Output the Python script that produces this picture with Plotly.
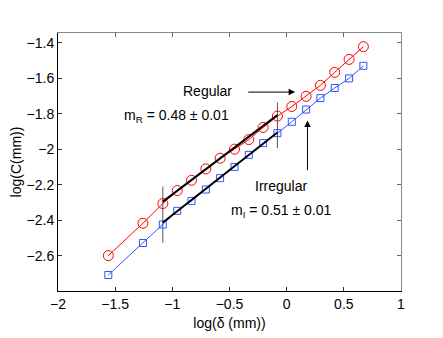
import plotly.graph_objects as go

log_delta = [-1.56, -1.257, -1.083, -0.957, -0.832, -0.707, -0.582, -0.456, -0.331,
             -0.206, -0.081, 0.045, 0.170, 0.295, 0.420, 0.546, 0.671]
regular = [-2.598, -2.416, -2.305, -2.232, -2.174, -2.110, -2.050, -1.999, -1.945,
           -1.877, -1.813, -1.759, -1.702, -1.640, -1.567, -1.494, -1.4225]
irregular = [-2.707, -2.527, -2.423, -2.346, -2.290, -2.226, -2.162, -2.099, -2.031,
             -1.965, -1.909, -1.845, -1.776, -1.712, -1.655, -1.601, -1.530]

fit_x = [-1.083, -0.081]
fit_regular = [-2.294, -1.8075]
fit_irregular = [-2.412, -1.905]

bound_x = [-1.083, -0.081]
bound_y_lo = [-2.525, -1.993]
bound_y_hi = [-2.209, -1.736]

x_ticks = [-2, -1.5, -1, -0.5, 0, 0.5, 1]
x_tick_text = ["\u22122", "\u22121.5", "\u22121", "\u22120.5", "0", "0.5", "1"]
y_ticks = [-2.6, -2.4, -2.2, -2, -1.8, -1.6, -1.4]
y_tick_text = ["\u22122.6", "\u22122.4", "\u22122.2", "\u22122", "\u22121.8", "\u22121.6", "\u22121.4"]

FONT = "Liberation Sans, Arial, Helvetica, sans-serif"
RED = "#ff0000"
BLUE = "#3355ff"

fig = go.Figure()

for xb, ylo, yhi in zip(bound_x, bound_y_lo, bound_y_hi):
    fig.add_trace(go.Scatter(x=[xb, xb], y=[ylo, yhi], mode="lines",
                             line=dict(color="#555555", width=1), showlegend=False,
                             hoverinfo="skip"))

fig.add_trace(go.Scatter(x=log_delta, y=regular, mode="lines+markers",
                         line=dict(color=RED, width=1),
                         marker=dict(symbol="circle-open", size=10, color=RED,
                                     line=dict(width=1, color=RED)),
                         showlegend=False))
fig.add_trace(go.Scatter(x=log_delta, y=irregular, mode="lines+markers",
                         line=dict(color=BLUE, width=1),
                         marker=dict(symbol="square-open", size=7, color=BLUE,
                                     line=dict(width=1, color=BLUE)),
                         showlegend=False))
fig.add_trace(go.Scatter(x=fit_x, y=fit_regular, mode="lines",
                         line=dict(color="black", width=2), showlegend=False))
fig.add_trace(go.Scatter(x=fit_x, y=fit_irregular, mode="lines",
                         line=dict(color="black", width=2), showlegend=False))

ann_font = dict(family=FONT, size=14, color="black")
fig.add_annotation(x=-0.692, y=-1.669, text="Regular", showarrow=False, font=ann_font,
                   xref="x", yref="y")
fig.add_annotation(x=0.074, y=-1.678, ax=-0.349, ay=-1.678, axref="x", ayref="y",
                   xref="x", yref="y", text="", showarrow=True, arrowhead=2,
                   arrowsize=1.3, arrowwidth=1, arrowcolor="black")
fig.add_annotation(x=0.182, y=-1.838, ax=0.182, ay=-2.125, axref="x", ayref="y",
                   xref="x", yref="y", text="", showarrow=True, arrowhead=2,
                   arrowsize=1.3, arrowwidth=1, arrowcolor="black")
fig.add_annotation(x=-0.046, y=-2.209, text="Irregular", showarrow=False, font=ann_font,
                   xref="x", yref="y")
fig.add_annotation(x=-0.96, y=-1.81, text="m<sub>R</sub> = 0.48 \u00b1 0.01",
                   showarrow=False, font=ann_font, xref="x", yref="y")
fig.add_annotation(x=-0.046, y=-2.345, text="m<sub>I</sub> = 0.51 \u00b1 0.01",
                   showarrow=False, font=ann_font, xref="x", yref="y")

axis_common = dict(ticks="inside", ticklen=4, tickcolor="#333333", showgrid=False,
                   zeroline=False, showline=True, linecolor="black", linewidth=1,
                   automargin=False,
                   tickfont=dict(family=FONT, size=14, color="black"))

fig.update_layout(
    width=443, height=338,
    margin=dict(l=50, r=50, t=25, b=55, autoexpand=False),
    paper_bgcolor="white", plot_bgcolor="white",
    font=dict(family=FONT, size=14, color="black"),
    xaxis=dict(range=[-2, 1], tickvals=x_ticks, ticktext=x_tick_text,
               title=dict(text="log(\u03b4 (mm))", font=dict(family=FONT, size=14),
                          standoff=7),
               **axis_common),
    yaxis=dict(range=[-2.797, -1.3455], tickvals=y_ticks, ticktext=y_tick_text,
               title=dict(text="log(C(mm))", font=dict(family=FONT, size=14),
                          standoff=9),
               **axis_common),
    xaxis2=dict(range=[-2, 1], overlaying="x", side="top", tickvals=x_ticks,
                showticklabels=False, ticks="inside", ticklen=4, tickcolor="#666666",
                showline=True, linecolor="#888888", showgrid=False, zeroline=False,
                automargin=False, anchor="y"),
    yaxis2=dict(range=[-2.797, -1.3455], overlaying="y", side="right", tickvals=y_ticks,
                showticklabels=False, ticks="inside", ticklen=4, tickcolor="#666666",
                showline=True, linecolor="#888888", showgrid=False, zeroline=False,
                automargin=False, anchor="x"),
)
fig.add_trace(go.Scatter(x=[None], y=[None], xaxis="x2", yaxis="y2", showlegend=False))

fig.write_html("out.html")
